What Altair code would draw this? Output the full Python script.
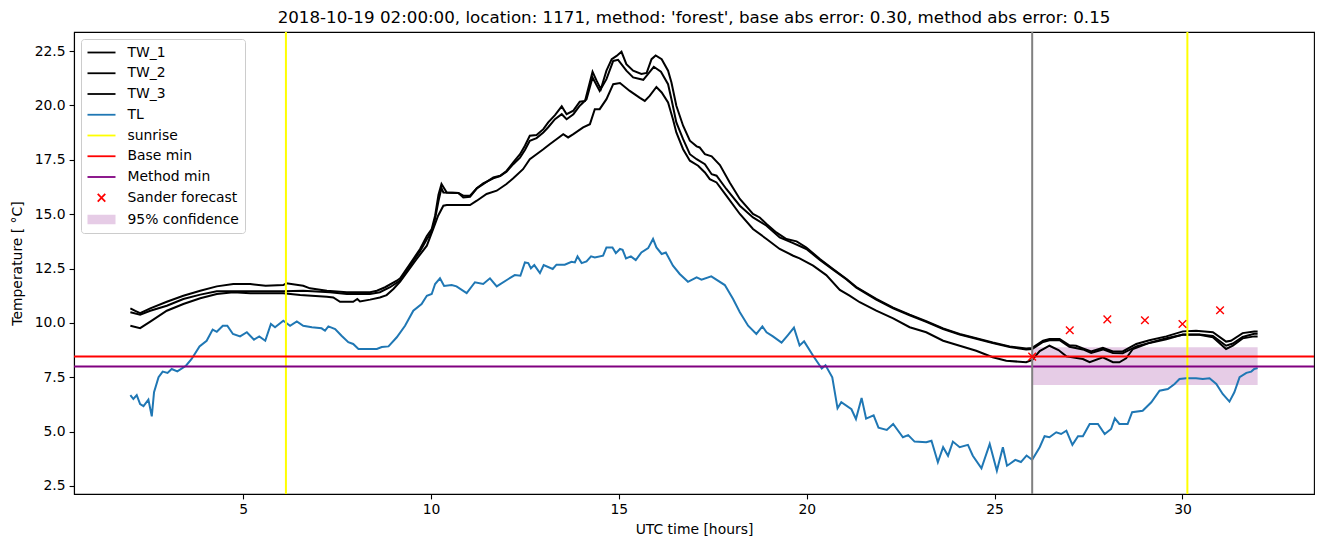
import altair as alt
import pandas as pd

# ---------------- data ----------------
TITLE = "2018-10-19 02:00:00, location: 1171, method: 'forest', base abs error: 0.30, method abs error: 0.15"

tw1_hours = [2.0, 2.13, 2.26, 2.53, 2.97, 3.41, 3.86, 4.3, 4.74, 5.19, 5.6, 6.07, 6.15, 6.6, 6.78, 7.23, 7.76, 8.38, 8.56, 8.78, 9.09, 9.18, 9.53, 9.71, 9.89, 10.02, 10.11, 10.2, 10.28, 10.42, 10.73, 10.86, 11.04, 11.22, 11.48, 11.66, 11.84, 12.01, 12.19, 12.37, 12.5, 12.63, 12.81, 12.99, 13.12, 13.3, 13.48, 13.61, 13.79, 13.96, 14.1, 14.18, 14.3, 14.41, 14.52, 14.67, 14.81, 14.94, 15.07, 15.2, 15.38, 15.6, 15.74, 15.87, 15.98, 16.14, 16.31, 16.4, 16.53, 16.71, 16.89, 17.07, 17.15, 17.29, 17.47, 17.69, 17.95, 18.22, 18.57, 18.75, 18.93, 19.19, 19.46, 19.73, 19.99, 20.35, 20.7, 21.06, 21.32, 21.85, 22.3, 22.74, 23.18, 23.63, 24.07, 24.51, 24.95, 25.4, 25.84, 26.0, 26.29, 26.46, 26.73, 26.99, 27.17, 27.35, 27.57, 27.88, 28.15, 28.41, 28.77, 29.12, 29.57, 30.01, 30.36, 30.81, 31.16, 31.29, 31.6, 31.91, 32.0]
tw1_temps = [10.67, 10.55, 10.45, 10.67, 10.97, 11.25, 11.48, 11.68, 11.79, 11.79, 11.71, 11.74, 11.82, 11.71, 11.59, 11.48, 11.41, 11.41, 11.48, 11.64, 11.94, 12.05, 12.94, 13.4, 14.0, 14.32, 14.93, 15.9, 16.39, 16.0, 15.97, 15.85, 15.85, 16.19, 16.49, 16.69, 16.77, 16.99, 17.38, 17.76, 18.15, 18.61, 18.64, 18.91, 19.22, 19.56, 19.96, 19.6, 19.76, 20.17, 20.21, 20.75, 21.55, 21.13, 20.75, 21.6, 22.13, 22.28, 22.47, 21.9, 21.6, 21.45, 21.5, 22.13, 22.3, 22.13, 21.6, 21.06, 19.99, 19.07, 18.38, 18.12, 18.07, 17.76, 17.66, 17.26, 16.46, 15.7, 15.01, 14.85, 14.55, 14.16, 13.86, 13.75, 13.47, 12.94, 12.48, 12.02, 11.65, 11.1, 10.7, 10.38, 10.08, 9.75, 9.49, 9.3, 9.1, 8.92, 8.82, 8.85, 9.18, 9.26, 9.26, 8.97, 8.95, 8.83, 8.69, 8.85, 8.69, 8.69, 9.03, 9.2, 9.38, 9.61, 9.64, 9.57, 9.14, 9.18, 9.53, 9.6, 9.6]

tw2_hours = [2.0, 2.26, 2.53, 2.97, 3.41, 3.86, 4.3, 4.74, 6.07, 6.6, 7.31, 7.76, 8.38, 8.64, 8.91, 9.18, 9.53, 9.71, 9.89, 10.02, 10.11, 10.2, 10.28, 10.33, 10.73, 10.86, 11.04, 11.22, 11.39, 11.66, 11.84, 12.01, 12.19, 12.37, 12.5, 12.63, 12.81, 12.99, 13.12, 13.3, 13.48, 13.61, 13.79, 13.96, 14.14, 14.3, 14.49, 14.67, 14.85, 14.98, 15.2, 15.38, 15.65, 15.93, 16.12, 16.31, 16.4, 16.53, 16.71, 16.89, 17.07, 17.29, 17.47, 17.6, 17.86, 18.22, 18.57, 18.93, 19.28, 19.64, 19.99, 20.35, 20.7, 21.06, 21.32, 21.85, 22.3, 22.74, 23.18, 23.63, 24.07, 24.51, 24.95, 25.4, 25.84, 26.0, 26.29, 26.46, 26.73, 26.99, 27.35, 27.57, 27.88, 28.15, 28.41, 28.77, 29.12, 29.57, 30.01, 30.45, 30.81, 31.16, 31.34, 31.6, 31.91, 32.0]
tw2_temps = [10.49, 10.38, 10.56, 10.79, 11.1, 11.3, 11.45, 11.45, 11.45, 11.48, 11.41, 11.33, 11.33, 11.41, 11.64, 11.95, 12.85, 13.3, 13.85, 14.2, 14.8, 15.6, 16.2, 16.0, 15.97, 15.77, 15.8, 16.19, 16.42, 16.65, 16.75, 16.95, 17.3, 17.6, 17.95, 18.38, 18.5, 18.76, 19.0, 19.37, 19.6, 19.37, 19.6, 19.99, 20.29, 21.29, 20.67, 21.21, 22.05, 22.1, 21.6, 21.29, 21.18, 21.78, 21.55, 20.98, 20.29, 19.22, 18.45, 17.76, 17.53, 17.3, 16.84, 16.77, 16.16, 15.39, 14.85, 14.47, 13.93, 13.67, 13.4, 12.9, 12.45, 12.0, 11.62, 11.07, 10.67, 10.35, 10.05, 9.72, 9.46, 9.27, 9.07, 8.89, 8.78, 8.8, 9.12, 9.2, 9.2, 8.9, 8.78, 8.62, 8.78, 8.62, 8.6, 8.92, 9.08, 9.25, 9.47, 9.47, 9.4, 8.95, 9.05, 9.35, 9.5, 9.5]

tw3_hours = [2.0, 2.26, 2.53, 2.97, 3.41, 3.86, 4.3, 4.74, 5.19, 6.07, 6.52, 7.23, 7.4, 7.58, 7.93, 8.04, 8.11, 8.38, 8.64, 8.82, 9.0, 9.18, 9.62, 9.89, 10.06, 10.19, 10.33, 10.42, 11.04, 11.22, 11.48, 11.75, 12.01, 12.19, 12.45, 12.63, 12.81, 12.99, 13.16, 13.34, 13.52, 13.65, 13.79, 14.05, 14.23, 14.36, 14.49, 14.67, 14.85, 15.03, 15.29, 15.56, 15.69, 15.82, 16.0, 16.14, 16.31, 16.44, 16.53, 16.71, 16.89, 17.11, 17.29, 17.42, 17.6, 17.86, 18.22, 18.57, 18.93, 19.28, 19.64, 19.81, 20.17, 20.52, 20.88, 21.14, 21.41, 21.85, 22.3, 22.74, 23.18, 23.63, 24.07, 24.51, 24.95, 25.31, 25.84, 26.0, 26.2, 26.46, 26.7, 26.91, 27.35, 27.53, 27.88, 28.15, 28.32, 28.5, 28.68, 29.12, 29.57, 30.01, 30.45, 30.81, 31.16, 31.34, 31.6, 31.91, 32.0]
tw3_temps = [9.87, 9.76, 10.06, 10.56, 10.87, 11.13, 11.33, 11.41, 11.36, 11.36, 11.28, 11.2, 11.17, 10.97, 10.97, 11.1, 10.99, 11.07, 11.17, 11.28, 11.56, 11.9, 12.94, 13.55, 14.32, 14.93, 15.39, 15.42, 15.42, 15.62, 15.93, 16.08, 16.39, 16.65, 17.07, 17.53, 17.76, 17.99, 18.22, 18.45, 18.68, 18.53, 18.68, 18.99, 19.14, 19.83, 19.83, 20.29, 20.98, 21.03, 20.67, 20.35, 20.21, 20.44, 20.85, 20.6, 20.14, 19.37, 18.76, 17.99, 17.46, 17.23, 16.92, 16.61, 16.46, 15.85, 15.01, 14.32, 13.86, 13.4, 13.09, 12.97, 12.63, 12.2, 11.52, 11.25, 10.95, 10.56, 10.21, 9.8, 9.57, 9.18, 8.95, 8.72, 8.42, 8.26, 8.19, 8.3, 8.7, 8.95, 8.75, 8.46, 8.34, 8.19, 8.42, 8.19, 8.19, 8.37, 8.8, 9.08, 9.3, 9.45, 9.45, 9.34, 8.8, 8.95, 9.29, 9.38, 9.38]

tl_hours = [2.0, 2.08, 2.17, 2.26, 2.35, 2.48, 2.57, 2.63, 2.75, 2.86, 2.99, 3.1, 3.25, 3.48, 3.63, 3.84, 4.03, 4.19, 4.3, 4.46, 4.58, 4.73, 4.92, 5.1, 5.29, 5.43, 5.59, 5.74, 5.85, 6.07, 6.25, 6.43, 6.6, 6.83, 7.09, 7.18, 7.27, 7.45, 7.62, 7.8, 7.93, 8.07, 8.29, 8.56, 8.69, 8.87, 9.09, 9.31, 9.53, 9.75, 9.89, 10.02, 10.11, 10.24, 10.35, 10.55, 10.68, 10.95, 11.17, 11.39, 11.57, 11.75, 12.06, 12.23, 12.38, 12.5, 12.59, 12.66, 12.75, 12.9, 13.0, 13.24, 13.34, 13.56, 13.74, 13.83, 13.9, 14.01, 14.14, 14.26, 14.36, 14.58, 14.67, 14.83, 14.92, 15.03, 15.1, 15.19, 15.32, 15.45, 15.6, 15.78, 15.91, 16.0, 16.14, 16.25, 16.44, 16.62, 16.84, 17.07, 17.2, 17.46, 17.82, 18.04, 18.22, 18.44, 18.66, 18.82, 18.93, 19.1, 19.33, 19.5, 19.66, 19.81, 19.93, 20.17, 20.4, 20.5, 20.68, 20.82, 20.92, 21.19, 21.31, 21.46, 21.58, 21.78, 21.91, 22.13, 22.3, 22.56, 22.7, 22.87, 23.18, 23.32, 23.49, 23.63, 23.76, 23.89, 24.07, 24.29, 24.42, 24.65, 24.87, 25.06, 25.22, 25.33, 25.4, 25.55, 25.7, 25.85, 26.0, 26.2, 26.33, 26.46, 26.64, 26.77, 26.91, 27.07, 27.22, 27.35, 27.53, 27.75, 27.93, 28.1, 28.2, 28.32, 28.54, 28.66, 28.94, 29.17, 29.39, 29.61, 29.79, 29.92, 30.1, 30.36, 30.54, 30.72, 30.9, 31.07, 31.25, 31.38, 31.52, 31.7, 31.83, 31.91, 32.0]
tl_temps = [6.68, 6.5, 6.68, 6.27, 6.17, 6.47, 5.7, 6.81, 7.5, 7.76, 7.7, 7.88, 7.77, 8.03, 8.34, 8.92, 9.18, 9.69, 9.59, 9.87, 9.87, 9.49, 9.38, 9.57, 9.23, 9.38, 9.18, 9.95, 9.8, 10.1, 9.87, 10.07, 9.87, 9.8, 9.75, 9.64, 9.84, 9.72, 9.41, 9.11, 9.03, 8.8, 8.8, 8.8, 8.89, 8.92, 9.34, 9.87, 10.56, 10.87, 11.25, 11.33, 11.79, 12.05, 11.7, 11.74, 11.68, 11.37, 11.87, 11.79, 12.05, 11.68, 12.02, 12.2, 12.17, 12.78, 12.75, 12.51, 12.66, 12.29, 12.66, 12.48, 12.68, 12.68, 12.81, 12.78, 13.06, 12.75, 12.83, 13.06, 13.01, 13.09, 13.47, 13.47, 13.21, 13.4, 13.36, 12.97, 13.06, 12.89, 13.24, 13.44, 13.86, 13.47, 13.17, 13.24, 12.63, 12.25, 11.89, 12.09, 11.99, 12.14, 11.74, 11.1, 10.49, 9.87, 9.49, 9.84, 9.57, 9.38, 9.09, 9.44, 9.78, 8.96, 9.15, 8.49, 7.9, 8.05, 7.5, 6.07, 6.35, 6.03, 5.58, 6.55, 5.6, 5.75, 5.18, 5.08, 5.35, 4.74, 4.84, 4.54, 4.51, 4.58, 3.59, 4.28, 3.89, 4.54, 4.28, 4.39, 3.89, 3.31, 4.43, 3.2, 4.28, 3.43, 3.51, 3.7, 3.6, 3.9, 3.7, 4.28, 4.79, 4.74, 4.97, 4.89, 5.04, 4.39, 4.79, 4.79, 5.35, 5.35, 4.89, 5.12, 5.61, 5.35, 5.35, 5.89, 5.96, 6.35, 6.88, 6.96, 7.19, 7.42, 7.45, 7.45, 7.42, 7.45, 7.19, 6.73, 6.38, 6.81, 7.5, 7.7, 7.76, 7.88, 7.92]

sunrise_hours = [6.14, 30.13]
forecast_start_hour = 26.0
base_min = 8.46
method_min = 8.0
forecast_hours = [26, 27, 28, 29, 30, 31]
forecast_temps = [8.45, 9.66, 10.16, 10.12, 9.95, 10.58]
conf_hours = [26.0, 32.0]
conf_low = 7.14
conf_high = 8.88

legend_labels = ["TW_1", "TW_2", "TW_3", "TL", "sunrise", "Base min", "Method min", "Sander forecast", "95% confidence"]
legend_colors = ["black", "black", "black", "#1f77b4", "yellow", "red", "purple", "red", "#e6cce6"]

x_domain = [0.5, 33.5]
y_domain = [2.13, 23.38]
x_ticks = [5, 10, 15, 20, 25, 30]
y_ticks = [2.5, 5.0, 7.5, 10.0, 12.5, 15.0, 17.5, 20.0, 22.5]

# ---------------- tables ----------------
tw_df = pd.concat([
    pd.DataFrame({"hour": tw1_hours, "temp": tw1_temps, "series": "TW_1"}),
    pd.DataFrame({"hour": tw2_hours, "temp": tw2_temps, "series": "TW_2"}),
    pd.DataFrame({"hour": tw3_hours, "temp": tw3_temps, "series": "TW_3"}),
], ignore_index=True)
tl_df = pd.DataFrame({"hour": tl_hours, "temp": tl_temps})
sun_df = pd.DataFrame({"hour": sunrise_hours})
start_df = pd.DataFrame({"hour": [forecast_start_hour]})
base_df = pd.DataFrame({"temp": [base_min]})
meth_df = pd.DataFrame({"temp": [method_min]})
fc_df = pd.DataFrame({"hour": forecast_hours, "temp": forecast_temps})
conf_df = pd.DataFrame({"hour": [conf_hours[0]], "hour_end": [conf_hours[1]],
                        "temp": [conf_low], "temp_high": [conf_high]})
leg_df = pd.DataFrame({"entry": legend_labels})

FONT = "DejaVu Sans"
LW = 2.0

xscale = alt.Scale(domain=x_domain, nice=False, zero=False)
yscale = alt.Scale(domain=y_domain, nice=False, zero=False)
xaxis = alt.Axis(values=x_ticks, title="UTC time [hours]", format="d", grid=False, titlePadding=6)
yaxis = alt.Axis(values=y_ticks, title="Temperature [ °C]", format=".1f", grid=False, titlePadding=10)


def X():
    return alt.X("hour:Q", scale=xscale, axis=xaxis)


def Y():
    return alt.Y("temp:Q", scale=yscale, axis=yaxis)


band = alt.Chart(conf_df).mark_rect(color="purple", opacity=0.2).encode(
    x=X(), x2="hour_end:Q", y=Y(), y2="temp_high:Q")

tw = alt.Chart(tw_df).mark_line(color="black", strokeWidth=LW).encode(
    x=X(), y=Y(), detail="series:N")

tl = alt.Chart(tl_df).mark_line(color="#1f77b4", strokeWidth=LW).encode(x=X(), y=Y())

sun = alt.Chart(sun_df).mark_rule(color="yellow", strokeWidth=LW).encode(x=X())
base = alt.Chart(base_df).mark_rule(color="red", strokeWidth=LW).encode(y=Y())
meth = alt.Chart(meth_df).mark_rule(color="purple", strokeWidth=LW).encode(y=Y())
start = alt.Chart(start_df).mark_rule(color="grey", strokeWidth=LW).encode(x=X())

XPATH = "M-1,-1L1,1M-1,1L1,-1"
fc = alt.Chart(fc_df).mark_point(shape=XPATH, color="red", size=58, strokeWidth=1.4,
                                 filled=False, opacity=1).encode(x=X(), y=Y())

LINE = "M-2,0H2"
XS = "M-0.54,-0.54L0.54,0.54M-0.54,0.54L0.54,-0.54"
PATCH = "".join(f"M-2,{v}H2" for v in [-0.56, -0.4, -0.24, -0.08, 0.08, 0.24, 0.4, 0.56])
legend_shapes = [LINE] * 7 + [XS, PATCH]

leg_props = dict(title=None, orient="none", legendX=7, legendY=7, padding=5.5,
                 symbolSize=196, symbolStrokeWidth=1.8, symbolOffset=7, labelOffset=18,
                 rowPadding=5.75, labelFontSize=13.9, labelFont=FONT, labelColor="black",
                 strokeColor="#cccccc", fillColor="rgba(255,255,255,0.8)", cornerRadius=3,
                 symbolOpacity=1, labelLimit=300)

leg = alt.Chart(leg_df).mark_point(filled=False, opacity=0).encode(
    color=alt.Color("entry:N", scale=alt.Scale(domain=legend_labels, range=legend_colors),
                    legend=alt.Legend(**leg_props)),
    shape=alt.Shape("entry:N", scale=alt.Scale(domain=legend_labels, range=legend_shapes),
                    legend=alt.Legend(**leg_props)),
)

chart = alt.layer(band, tw, tl, sun, base, meth, start, fc, leg).properties(
    width=1240, height=462,
    title=alt.TitleParams(TITLE, fontSize=16.7, fontWeight="normal", font=FONT, color="black",
                          anchor="middle", frame="group", offset=-9, baseline="alphabetic"),
    autosize=alt.AutoSizeParams(type="none"),
    padding={"left": 74, "top": 32, "right": 10, "bottom": 53},
).configure(font=FONT).configure_view(stroke="black", strokeWidth=1.1).configure_axis(
    labelFont=FONT, labelFontSize=13.9, labelColor="black", titleFont=FONT, titleFontSize=13.9,
    titleFontWeight="normal", titleColor="black", tickColor="black", tickSize=4.9, tickWidth=1.1,
    domainColor="black", domainWidth=1.1, grid=False, labelPadding=4,
)

chart.save("out.html", embed_options={"renderer": "svg", "actions": False})
